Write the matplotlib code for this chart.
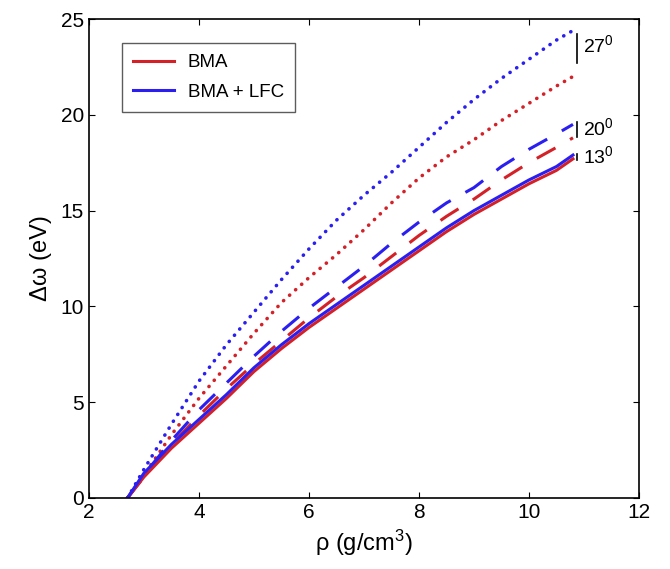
import matplotlib
matplotlib.use("Agg")
import matplotlib.pyplot as plt

plt.rcParams['font.family'] = ['Liberation Sans', 'DejaVu Sans']
plt.rcParams['mathtext.default'] = 'regular'

# density (g/cm^3)
rho = [2.7, 3.0, 3.5, 4.0, 4.5, 5.0, 5.5, 6.0, 6.5, 7.0, 7.5, 8.0,
       8.5, 9.0, 9.5, 10.0, 10.5, 10.8]

# 27 deg
bma_27 = [0, 1.2, 3.3, 5.2, 6.9, 8.6, 10.2, 11.5, 12.7, 14.0, 15.4, 16.7,
          17.8, 18.7, 19.7, 20.6, 21.5, 22.0]
lfc_27 = [0, 1.5, 3.85, 6.1, 8.0, 9.7, 11.4, 13.0, 14.5, 15.8, 17.0, 18.3,
          19.6, 20.8, 21.9, 22.9, 23.9, 24.4]
# 20 deg
bma_20 = [0, 1.1, 2.8, 4.3, 5.7, 7.0, 8.2, 9.4, 10.5, 11.5, 12.6, 13.7,
          14.7, 15.6, 16.6, 17.5, 18.3, 18.8]
lfc_20 = [0, 1.2, 3.0, 4.6, 6.0, 7.4, 8.7, 9.9, 11.0, 12.1, 13.3, 14.4,
          15.4, 16.2, 17.3, 18.2, 19.0, 19.5]
# 13 deg
bma_13 = [0, 1.1, 2.6, 3.9, 5.2, 6.6, 7.8, 8.9, 9.9, 10.9, 11.9, 12.9,
          13.9, 14.8, 15.6, 16.4, 17.1, 17.7]
lfc_13 = [0, 1.3, 2.8, 4.1, 5.4, 6.8, 8.0, 9.1, 10.1, 11.1, 12.1, 13.1,
          14.1, 15.0, 15.8, 16.6, 17.3, 17.9]

angles = ['27', '20', '13']
bar_x = 10.87
bar_spans = [(22.7, 24.2), (18.85, 19.6), (17.64, 17.95)]
label_y = [23.65, 19.3, 17.85]

RED = '#d42128'
BLUE = '#2a1ff0'

fig = plt.figure(figsize=(6.7, 5.69), dpi=100)
ax = fig.add_axes([0.1328, 0.1248, 0.8209, 0.8418])

dot = dict(linestyle=(0, (0.05, 2.2)), dash_capstyle='round', lw=2.6)
dash = dict(linestyle=(0, (7, 5.5)), lw=2.2)

ax.plot(rho, bma_27, color=RED, **dot)
ax.plot(rho, lfc_27, color=BLUE, **dot)
ax.plot(rho, bma_20, color=RED, **dash)
ax.plot(rho, lfc_20, color=BLUE, **dash)
ax.plot(rho, bma_13, color=RED, lw=2.2, label='BMA')
ax.plot(rho, lfc_13, color=BLUE, lw=2.2, label='BMA + LFC')

for a, (y0, y1), ly in zip(angles, bar_spans, label_y):
    ax.plot([bar_x, bar_x], [y0, y1], color='black', lw=1.2)
    ax.text(bar_x + 0.12, ly, a + '$^0$', fontsize=14, va='center', ha='left')

ax.set_xlim(2, 12)
ax.set_ylim(0, 25)
ax.set_xticks([2, 4, 6, 8, 10, 12])
ax.set_yticks([0, 5, 10, 15, 20, 25])
ax.tick_params(direction='in', top=True, right=True, labelsize=15,
               length=4, width=0.8)
for s in ax.spines.values():
    s.set_linewidth(1.2)

ax.set_xlabel('ρ (g/cm$^3$)', fontsize=17, labelpad=4)
ax.set_ylabel('Δω (eV)', fontsize=17, labelpad=6)

leg = ax.legend(loc='upper left', bbox_to_anchor=(0.06, 0.95), fontsize=13.5,
                frameon=True, fancybox=False, edgecolor='#333333',
                handlelength=2.2, handletextpad=0.7, borderpad=0.6,
                labelspacing=0.65, borderaxespad=0)
leg.get_frame().set_linewidth(1.0)

fig.savefig('out.png', dpi=100)
